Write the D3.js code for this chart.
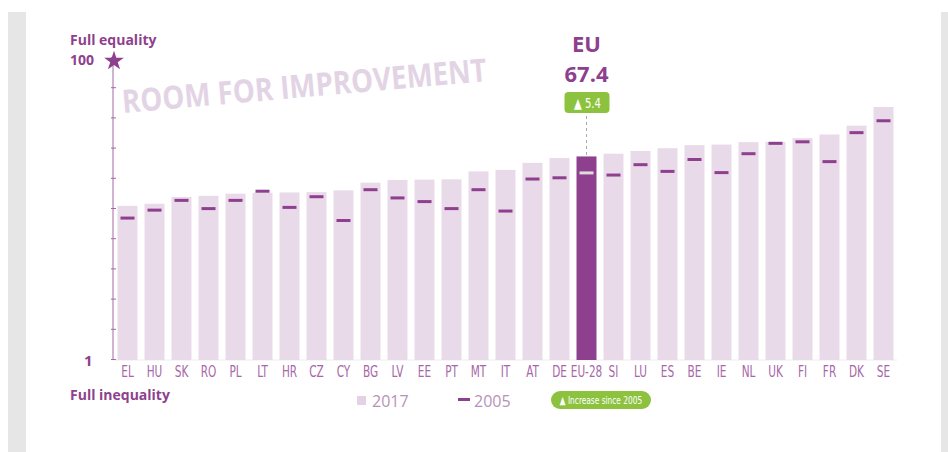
<!DOCTYPE html>
<html>
<head>
<meta charset="utf-8">
<script src="https://cdn.jsdelivr.net/npm/d3@7"></script>
<style>
  body { margin: 0; background: #fff; }
  svg { display: block; }
</style>
</head>
<body>
<svg id="chart"></svg>
<script>
// Gender Equality Index, 2017 vs 2005
const countries = ["EL","HU","SK","RO","PL","LT","HR","CZ","CY","BG","LV","EE","PT","MT","IT","AT","DE","EU-28","SI","LU","ES","BE","IE","NL","UK","FI","FR","DK","SE"];
const score2017 = [51.2,51.9,54.1,54.5,55.2,55.5,55.6,55.7,56.3,58.8,59.7,59.8,59.9,62.5,63.0,65.3,66.9,67.4,68.3,69.2,70.1,71.1,71.3,72.1,72.2,73.4,74.6,77.5,83.6];
const score2005 = [47.2,49.8,53.0,50.3,53.0,56.0,50.7,54.2,46.4,56.5,53.8,52.6,50.3,56.5,49.5,60.0,60.4,62.0,61.3,64.7,62.5,66.4,62.1,68.3,71.7,72.2,65.7,75.2,79.1];
const yTicks = [1,10.9,20.8,30.7,40.6,50.5,60.4,70.3,80.2,90.1,100];
const euLabel = "EU";
const euScore = "67.4";
const euChange = "5.4";

const W = 948, H = 452;
const purple = "#8e3f8e", barLight = "#e9dae9", euColor = "#8e3f8e", green = "#8dc23f";
const condensed = "'DejaVu Sans Condensed',sans-serif";
const sans = "'Open Sans','Noto Sans',sans-serif";

const svg = d3.select("#chart").attr("width", W).attr("height", H);

// gray frame
svg.append("rect").attr("x", 8).attr("y", 12).attr("width", 18).attr("height", H - 12).attr("fill", "#e6e6e6");
svg.append("rect").attr("x", 941).attr("y", 12).attr("width", 7).attr("height", H - 12).attr("fill", "#e6e6e6");

const x = d3.scaleBand().domain(countries).range([114, 897]).paddingInner(0.26).paddingOuter(0.13);
const y = d3.scaleLinear().domain([1, 100]).range([359, 57]);

// watermark
svg.append("text")
  .attr("transform", "translate(123,113) rotate(-5)")
  .attr("font-family", sans).attr("font-weight", 700).attr("font-size", 32)
  .attr("fill", "#e3d4e5").attr("textLength", 366).attr("lengthAdjust", "spacingAndGlyphs")
  .text("ROOM FOR IMPROVEMENT");

// baseline
svg.append("line").attr("x1", 113).attr("x2", 897).attr("y1", 360).attr("y2", 360)
  .attr("stroke", "#ececec").attr("stroke-width", 1);

// bars
svg.selectAll("rect.bar").data(countries).enter().append("rect")
  .attr("class", "bar")
  .attr("x", d => x(d))
  .attr("width", x.bandwidth())
  .attr("y", (d, i) => y(score2017[i]))
  .attr("height", (d, i) => y(1) - y(score2017[i]) + 1)
  .attr("fill", d => d === "EU-28" ? euColor : barLight);

// 2005 marks
svg.selectAll("rect.m05").data(countries).enter().append("rect")
  .attr("class", "m05")
  .attr("x", d => x(d) + x.bandwidth() / 2 - 7)
  .attr("width", 14)
  .attr("y", (d, i) => y(score2005[i]) - 1.5)
  .attr("height", 3)
  .attr("fill", d => d === "EU-28" ? "#dddddd" : purple);

// y axis
const axis = svg.append("g").attr("transform", "translate(113,0)")
  .call(d3.axisLeft(y).tickValues(yTicks).tickSize(3).tickFormat(""));
axis.select(".domain").attr("stroke", "#a567a5").attr("d", "M0,60V360");
axis.selectAll(".tick line").attr("stroke", "#a567a5").attr("x2", 3).attr("x1", -2);

// star at top
const star = d3.symbol().type(d3.symbolStar).size(120);
svg.append("path").attr("d", star()).attr("transform", "translate(114,61)").attr("fill", purple);

// x labels (narrowed to mimic a condensed face)
svg.append("g").attr("transform", "translate(0,360)")
  .call(d3.axisBottom(x).tickSize(0).tickPadding(6))
  .call(g => g.select(".domain").remove())
  .selectAll("text")
  .attr("font-family", condensed).attr("font-size", 15).attr("fill", "#a867a8")
  .attr("dy", "0.75em")
  .attr("transform", "scale(0.78,1)");

// side labels
const side = svg.append("g").attr("font-family", sans).attr("font-weight", 700).attr("fill", purple).attr("font-size", 14);
side.append("text").attr("x", 70).attr("y", 45).text("Full equality");
side.append("text").attr("x", 70).attr("y", 65).text("100");
side.append("text").attr("x", 84).attr("y", 366).attr("font-size", 15).text("1");
side.append("text").attr("x", 70).attr("y", 400).text("Full inequality");

// EU callout
const cx = x("EU-28") + x.bandwidth() / 2;
svg.append("text").attr("x", cx).attr("y", 52).attr("text-anchor", "middle")
  .attr("font-family", sans).attr("font-weight", 700).attr("font-size", 22).attr("fill", purple).text(euLabel);
svg.append("text").attr("x", cx).attr("y", 82).attr("text-anchor", "middle")
  .attr("font-family", sans).attr("font-weight", 700).attr("font-size", 22).attr("fill", purple).text(euScore);
svg.append("rect").attr("x", cx - 22).attr("y", 92).attr("width", 45).attr("height", 21).attr("rx", 4).attr("fill", green);
svg.append("text").attr("transform", `translate(${cx + 1},108) scale(0.8,1)`).attr("text-anchor", "middle")
  .attr("font-family", condensed).attr("font-size", 14).attr("fill", "#fff").text("\u25B2 " + euChange);
svg.append("line").attr("x1", cx).attr("x2", cx).attr("y1", 116).attr("y2", y(67.4))
  .attr("stroke", "#aaa").attr("stroke-dasharray", "3,3");

// legend
const lg = svg.append("g");
lg.append("rect").attr("x", 357).attr("y", 396).attr("width", 9).attr("height", 9).attr("fill", "#e2d2e4");
lg.append("text").attr("x", 372).attr("y", 407).attr("font-family", sans).attr("font-size", 16).attr("fill", "#b792b8").text("2017");
lg.append("rect").attr("x", 458).attr("y", 398).attr("width", 12).attr("height", 3).attr("fill", purple);
lg.append("text").attr("x", 474).attr("y", 407).attr("font-family", sans).attr("font-size", 16).attr("fill", "#b792b8").text("2005");
lg.append("rect").attr("x", 551).attr("y", 391).attr("width", 100).attr("height", 18).attr("rx", 9).attr("fill", green);
lg.append("text").attr("transform", "translate(601,404) scale(0.75,1)").attr("text-anchor", "middle")
  .attr("font-family", condensed).attr("font-size", 11).attr("fill", "#fff").text("\u25B2 Increase since 2005");
</script>
</body>
</html>
